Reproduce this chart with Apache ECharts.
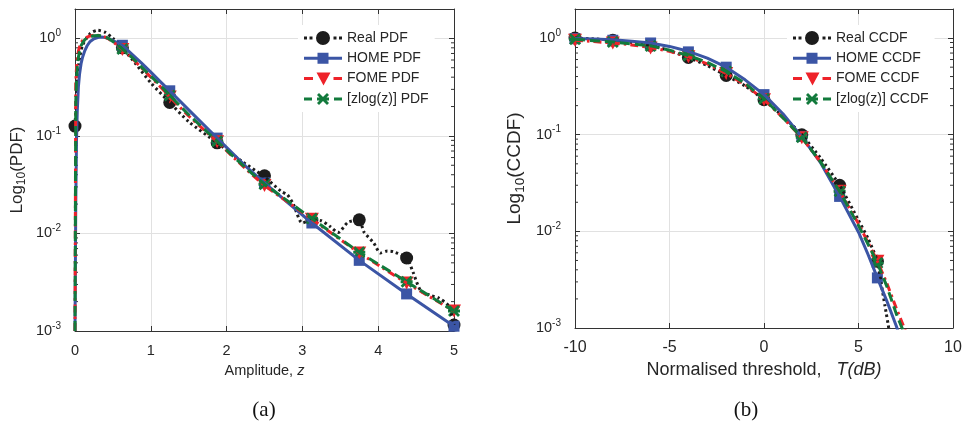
<!DOCTYPE html>
<html>
<head>
<meta charset="utf-8">
<script src="https://cdn.jsdelivr.net/npm/echarts@6/dist/echarts.min.js"></script>
<style>html,body{margin:0;padding:0;background:#fff}#c{width:966px;height:426px}</style>
</head>
<body>
<div id="c"></div>
<script>
// ---------- Panel (a): PDF ----------
const zReal = [0, 0.05, 0.1, 0.2, 0.3, 0.4, 0.5, 0.625, 0.8, 1.0, 1.25, 1.5, 1.875, 2.2, 2.5, 2.72, 2.8, 2.88, 3.0, 3.125, 3.25, 3.37, 3.47, 3.6, 3.75, 3.81, 3.94, 4.03, 4.12, 4.2, 4.375, 4.46, 4.56, 4.7, 4.79, 4.93, 5];
const realPdf = [0.126, 0.55, 0.85, 1.12, 1.21, 1.15, 1.0, 0.8, 0.55, 0.35, 0.22, 0.14, 0.085, 0.055, 0.038, 0.027, 0.025, 0.02, 0.0128, 0.0137, 0.0135, 0.0117, 0.0102, 0.013, 0.0138, 0.0104, 0.008, 0.0063, 0.0066, 0.0065, 0.0056, 0.004, 0.0026, 0.0023, 0.0022, 0.0018, 0.00115];
const zModel = [0, 0.01, 0.02, 0.03, 0.045, 0.06, 0.08, 0.1, 0.13, 0.16, 0.2, 0.25, 0.3, 0.35, 0.4, 0.45, 0.5, 0.56, 0.625, 0.75, 0.875, 1.0, 1.125, 1.25, 1.5, 1.875, 2.25, 2.5, 3.125, 3.75, 4.375, 5];
const homePdf = [0.001, 0.02, 0.09, 0.18, 0.32, 0.43, 0.55, 0.64, 0.75, 0.84, 0.93, 0.99, 1.02, 1.03, 1.02, 0.99, 0.95, 0.9, 0.85, 0.69, 0.56, 0.45, 0.36, 0.29, 0.185, 0.095, 0.049, 0.033, 0.0128, 0.0053, 0.0024, 0.00112];
const fomePdf = [0.001, 0.35, 0.5, 0.62, 0.74, 0.82, 0.9, 0.95, 1.0, 1.03, 1.06, 1.075, 1.075, 1.06, 1.03, 0.98, 0.92, 0.85, 0.77, 0.63, 0.5, 0.4, 0.32, 0.25, 0.16, 0.087, 0.046, 0.031, 0.014, 0.0063, 0.0031, 0.0016];
const zlogPdf = [0.001, 0.22, 0.38, 0.5, 0.64, 0.74, 0.84, 0.9, 0.97, 1.01, 1.04, 1.065, 1.07, 1.06, 1.035, 0.99, 0.93, 0.86, 0.78, 0.64, 0.51, 0.41, 0.33, 0.26, 0.165, 0.088, 0.047, 0.032, 0.0142, 0.0064, 0.0032, 0.0016];
const zMarkReal = [0, 0.625, 1.25, 1.875, 2.5, 3.125, 3.75, 4.375, 5];
const realPdfMark = [0.126, 0.8, 0.22, 0.085, 0.039, 0.0137, 0.0138, 0.0056, 0.00115];
const zMark = [0.625, 1.25, 1.875, 2.5, 3.125, 3.75, 4.375, 5];
const homePdfMark = [0.85, 0.29, 0.095, 0.033, 0.0128, 0.0053, 0.0024, 0.00112];
const fomePdfMark = [0.77, 0.25, 0.087, 0.031, 0.014, 0.0063, 0.0031, 0.0016];
const zlogPdfMark = [0.78, 0.26, 0.088, 0.032, 0.0142, 0.0064, 0.0032, 0.0016];
const zTicks = [0, 1, 2, 3, 4, 5];

// ---------- Panel (b): CCDF ----------
const tReal = [-10, -9, -8, -7, -6, -5, -4, -3, -2, -1, 0, 1, 2, 3, 4, 5, 5.5, 6, 6.2, 6.4, 6.6];
const realCcdf = [1.0, 0.98, 0.95, 0.9, 0.84, 0.74, 0.63, 0.52, 0.41, 0.32, 0.23, 0.155, 0.1, 0.057, 0.030, 0.013, 0.0085, 0.0049, 0.0029, 0.0017, 0.001];
const tHome = [-10, -9, -8, -7, -6, -5, -4, -3, -2, -1, 0, 1, 2, 3, 4, 5, 5.5, 6, 6.5, 7, 7.2];
const homeCcdf = [0.99, 0.98, 0.96, 0.93, 0.89, 0.82, 0.73, 0.62, 0.50, 0.37, 0.26, 0.165, 0.095, 0.051, 0.023, 0.0098, 0.0058, 0.0033, 0.0019, 0.00105, 0.0008];
const tFome = [-10, -9, -8, -7, -6, -5, -4, -3, -2, -1, 0, 1, 2, 3, 4, 5, 5.5, 6, 6.5, 7, 7.5];
const fomeCcdf = [0.95, 0.92, 0.89, 0.85, 0.8, 0.73, 0.64, 0.54, 0.43, 0.33, 0.23, 0.15, 0.093, 0.052, 0.026, 0.012, 0.0077, 0.0049, 0.0029, 0.0016, 0.00092];
const tZlog = [-10, -9, -8, -7, -6, -5, -4, -3, -2, -1, 0, 1, 2, 3, 4, 5, 5.5, 6, 6.5, 7, 7.35];
const zlogCcdf = [0.97, 0.94, 0.91, 0.87, 0.83, 0.75, 0.66, 0.56, 0.45, 0.34, 0.235, 0.15, 0.094, 0.052, 0.026, 0.0115, 0.0074, 0.0047, 0.0027, 0.0014, 0.00095];
const tMark = [-10, -8, -6, -4, -2, 0, 2, 4, 6];
const realCcdfMark = [1.0, 0.95, 0.84, 0.63, 0.41, 0.23, 0.1, 0.030, 0.0049];
const homeCcdfMark = [0.99, 0.95, 0.89, 0.72, 0.50, 0.26, 0.096, 0.023, 0.0033];
const fomeCcdfMark = [0.95, 0.89, 0.79, 0.64, 0.43, 0.23, 0.093, 0.026, 0.0049];
const zlogCcdfMark = [0.97, 0.91, 0.83, 0.66, 0.45, 0.235, 0.094, 0.026, 0.0047];
const tTicks = [-10, -5, 0, 5, 10];

const yMinorTicks = [0.002,0.003,0.004,0.005,0.006,0.007,0.008,0.009,0.02,0.03,0.04,0.05,0.06,0.07,0.08,0.09,0.2,0.3,0.4,0.5,0.6,0.7,0.8,0.9];
const legendPdf = ['Real PDF', 'HOME PDF', 'FOME PDF', '[zlog(z)] PDF'];
const legendCcdf = ['Real CCDF', 'HOME CCDF', 'FOME CCDF', '[zlog(z)] CCDF'];

// ---------- styling ----------
const FONT = 'Liberation Sans, Arial, sans-serif';
const TXT = '#262626';
const AX = '#333333';
const GRIDC = '#e1e1e1';
const C_REAL = '#1c1c1c', C_HOME = '#3b55a5', C_FOME = '#ee2229', C_ZLOG = '#127a3c';

const pairs = (xs, ys) => xs.map((x, i) => [x, ys[i]]);

const ICON_REAL = 'path://M0,0M38,16M0,6.5h3v3h-3zM5.5,6.5h3v3h-3zM29.5,6.5h3v3h-3zM35,6.5h3v3h-3zM12,8a7,7 0 1,0 14,0a7,7 0 1,0 -14,0z';
const ICON_HOME = 'path://M0,0M38,16M0,6.5h38v3h-38zM13.5,2.5h11v11h-11z';
const ICON_FOME = 'path://M0,0M38,16M0,6.5h9v3h-9zM12.5,2h14l-7,13zM29.5,6.5h8.5v3h-8.5z';
const ICON_ZLOG = 'path://M0,0M38,16M0,6.5h8v3h-8zM30,6.5h8v3h-8zM13,4L15,2L19,6L23,2L25,4L21,8L25,12L23,14L19,10L15,14L13,12L17,8ZM13,6.5h12v3h-12z';
const SYM_X = 'path://M13,4L15,2L19,6L23,2L25,4L21,8L25,12L23,14L19,10L15,14L13,12L17,8ZM13,6.5h12v3h-12z';

function logLabel(v) {
  const l = Math.log10(v);
  const e = Math.round(l);
  if (Math.abs(l - e) > 1e-6) return '';
  return '{b|10}{s|' + e + '}';
}
const logRich = {
  b: {fontSize: 14.5, fontFamily: FONT, color: TXT},
  s: {fontSize: 10, fontFamily: FONT, color: TXT, padding: [0, 0, 10, 0]}
};

function xAxisBottom(grid, min, max, interval, fs, name, nameRich) {
  return {
    gridIndex: grid, type: 'value', position: 'bottom', min, max, interval,
    axisLine: {show: true, onZero: false, lineStyle: {color: AX, width: 1}},
    axisTick: {show: true, inside: true, length: 5, lineStyle: {color: AX}},
    splitLine: {show: true, lineStyle: {color: GRIDC, width: 1}},
    axisLabel: {show: true, margin: 12, fontSize: fs, fontFamily: FONT, color: TXT},
    name, nameLocation: 'middle', nameGap: 32,
    nameTextStyle: {rich: nameRich}
  };
}
function xAxisTop(grid, min, max, interval) {
  return {
    gridIndex: grid, type: 'value', position: 'top', min, max, interval,
    axisLine: {show: true, onZero: false, lineStyle: {color: AX, width: 1}},
    axisTick: {show: true, inside: true, length: 5, lineStyle: {color: AX}},
    splitLine: {show: false}, axisLabel: {show: false}
  };
}
function yAxisLog(grid, pos, withLabel, name, nameRich, nameGap) {
  const a = {
    gridIndex: grid, type: 'log', logBase: 10, min: 0.001, max: 2, position: pos,
    axisLine: {show: true, onZero: false, lineStyle: {color: AX, width: 1}},
    axisTick: {show: true, inside: true, length: 5, lineStyle: {color: AX}},
    minorTick: {show: false},
    splitLine: {show: withLabel, lineStyle: {color: GRIDC, width: 1}},
    axisLabel: {show: withLabel, margin: 14, formatter: logLabel, rich: logRich}
  };
  if (name) {
    a.name = name; a.nameLocation = 'middle'; a.nameGap = nameGap; a.nameRotate = 90;
    a.nameTextStyle = {rich: nameRich};
  }
  return a;
}

function minorTickRender(params, api) {
  const cs = params.coordSys;
  const y = api.coord([api.value(0), api.value(1)])[1];
  return {
    type: 'group',
    children: [
      {type: 'line', shape: {x1: cs.x, y1: y, x2: cs.x + 3, y2: y}, style: {stroke: AX, lineWidth: 1}},
      {type: 'line', shape: {x1: cs.x + cs.width - 3, y1: y, x2: cs.x + cs.width, y2: y}, style: {stroke: AX, lineWidth: 1}}
    ]
  };
}

function lineSeries(name, xi, yi, data, color, dash, width, smooth) {
  return {
    type: 'line', name, xAxisIndex: xi, yAxisIndex: yi, data, showSymbol: false, symbol: 'none',
    smooth: smooth || false, clip: true,
    lineStyle: {color, width, type: dash, cap: 'butt', join: 'round'}, silent: true, animation: false
  };
}
function markSeries(name, xi, yi, data, color, symbol, size, rotate) {
  return {
    type: 'scatter', name, xAxisIndex: xi, yAxisIndex: yi, data, symbol, symbolSize: size,
    symbolRotate: rotate || 0, clip: false,
    itemStyle: {color, opacity: 1, borderWidth: 0}, silent: true, animation: false
  };
}

const nameRichX14 = {
  n: {fontSize: 14.5, fontFamily: FONT, color: TXT},
  i: {fontSize: 14.5, fontFamily: FONT, color: TXT, fontStyle: 'italic'}
};
const nameRichX18 = {
  n: {fontSize: 18, fontFamily: FONT, color: TXT},
  i: {fontSize: 18, fontFamily: FONT, color: TXT, fontStyle: 'italic'}
};
const nameRichYa = {
  n: {fontSize: 17, fontFamily: FONT, color: TXT},
  sub: {fontSize: 12, fontFamily: FONT, color: TXT, padding: [9, 0, 0, 0]}
};
const nameRichYb = {
  n: {fontSize: 19, fontFamily: FONT, color: TXT},
  sub: {fontSize: 13.5, fontFamily: FONT, color: TXT, padding: [10, 0, 0, 0]}
};

function legendFor(names, left) {
  const icons = [ICON_REAL, ICON_HOME, ICON_FOME, ICON_ZLOG];
  const cols = [C_REAL, C_HOME, C_FOME, C_ZLOG];
  return {
    orient: 'vertical', left, top: 25, padding: [5, 6, 5, 6],
    backgroundColor: '#ffffff', borderWidth: 0,
    itemWidth: 38, itemHeight: 16, itemGap: 4.3,
    selectedMode: false,
    textStyle: {fontSize: 14, fontFamily: FONT, color: TXT},
    data: names.map((n, i) => ({name: n, icon: icons[i], itemStyle: {color: cols[i], borderWidth: 0}}))
  };
}

const option = {
  animation: false,
  backgroundColor: '#ffffff',
  grid: [
    {left: 75, top: 9, width: 379, height: 322},
    {left: 575, top: 9, width: 378, height: 319}
  ],
  xAxis: [
    xAxisBottom(0, zTicks[0], zTicks[zTicks.length - 1], 1, 14.5, '{n|Amplitude, }{i|z}', nameRichX14),
    xAxisTop(0, zTicks[0], zTicks[zTicks.length - 1], 1),
    xAxisBottom(1, tTicks[0], tTicks[tTicks.length - 1], 5, 16, '{n|Normalised threshold,   }{i|T(dB)}', nameRichX18),
    xAxisTop(1, tTicks[0], tTicks[tTicks.length - 1], 5)
  ],
  yAxis: [
    yAxisLog(0, 'left', true, '{n|Log}{sub|10}{n|(PDF)}', nameRichYa, 47),
    yAxisLog(0, 'right', false),
    yAxisLog(1, 'left', true, '{n|Log}{sub|10}{n|(CCDF)}', nameRichYb, 48),
    yAxisLog(1, 'right', false)
  ],
  legend: [legendFor(legendPdf, 298), legendFor(legendCcdf, 787)],
  series: [
    {type: 'custom', xAxisIndex: 0, yAxisIndex: 0, renderItem: minorTickRender, data: yMinorTicks.map(v => [0, v]), silent: true, clip: false},
    {type: 'custom', xAxisIndex: 2, yAxisIndex: 2, renderItem: minorTickRender, data: yMinorTicks.map(v => [-10, v]), silent: true, clip: false},
    // panel a
    lineSeries('a-real-line', 0, 0, pairs(zReal, realPdf), C_REAL, [2.5, 3], 3, 0.25),
    markSeries('Real PDF', 0, 0, pairs(zMarkReal, realPdfMark), C_REAL, 'circle', 13),
    lineSeries('a-home-line', 0, 0, pairs(zModel, homePdf), C_HOME, 'solid', 3),
    markSeries('HOME PDF', 0, 0, pairs(zMark, homePdfMark), C_HOME, 'rect', 11),
    lineSeries('a-fome-line', 0, 0, pairs(zModel, fomePdf), C_FOME, [8, 4, 2.5, 4], 3),
    markSeries('FOME PDF', 0, 0, pairs(zMark, fomePdfMark), C_FOME, 'triangle', [14, 13], 180),
    lineSeries('a-zlog-line', 0, 0, pairs(zModel, zlogPdf), C_ZLOG, [10, 5], 3),
    markSeries('[zlog(z)] PDF', 0, 0, pairs(zMark, zlogPdfMark), C_ZLOG, SYM_X, [12, 12]),
    // panel b
    lineSeries('b-real-line', 2, 2, pairs(tReal, realCcdf), C_REAL, [2.5, 3], 3, 0.2),
    markSeries('Real CCDF', 2, 2, pairs(tMark, realCcdfMark), C_REAL, 'circle', 13),
    lineSeries('b-home-line', 2, 2, pairs(tHome, homeCcdf), C_HOME, 'solid', 3),
    markSeries('HOME CCDF', 2, 2, pairs(tMark, homeCcdfMark), C_HOME, 'rect', 11),
    lineSeries('b-fome-line', 2, 2, pairs(tFome, fomeCcdf), C_FOME, [8, 4, 2.5, 4], 3),
    markSeries('FOME CCDF', 2, 2, pairs(tMark, fomeCcdfMark), C_FOME, 'triangle', [14, 13], 180),
    lineSeries('b-zlog-line', 2, 2, pairs(tZlog, zlogCcdf), C_ZLOG, [10, 5], 3),
    markSeries('[zlog(z)] CCDF', 2, 2, pairs(tMark, zlogCcdfMark), C_ZLOG, SYM_X, [12, 12])
  ],
  graphic: [
    {type: 'text', x: 264, y: 410, style: {text: '(a)', fontSize: 21, fontFamily: 'Liberation Serif, Times New Roman, serif', fill: '#111', align: 'center', verticalAlign: 'middle'}},
    {type: 'text', x: 746, y: 410, style: {text: '(b)', fontSize: 21, fontFamily: 'Liberation Serif, Times New Roman, serif', fill: '#111', align: 'center', verticalAlign: 'middle'}}
  ]
};

const chart = echarts.init(document.getElementById('c'), null, {renderer: 'canvas'});
chart.setOption(option);
</script>
</body>
</html>
